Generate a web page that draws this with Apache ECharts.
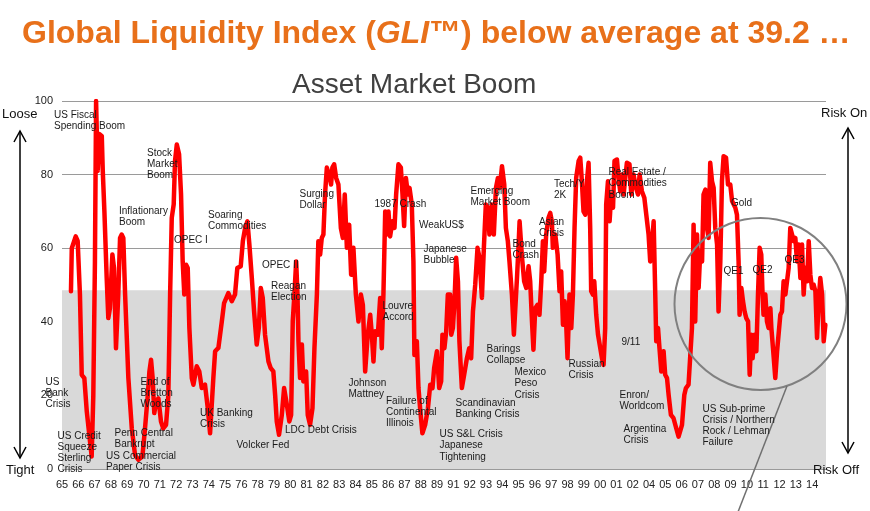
<!DOCTYPE html>
<html><head><meta charset="utf-8">
<script src="https://cdn.jsdelivr.net/npm/echarts@6/dist/echarts.min.js"></script>
<style>html,body{margin:0;padding:0;background:#fff}#c{width:870px;height:511px}</style>
</head><body><div id="c"></div>
<script>
// x-axis tick labels (one per unit on the x scale)
const xLabels = ['65','66','67','68','69','70','71','72','73','74','75','76','78','79','80','81','82','83','84','85','86','87','88','89','91','92','93','94','95','96','97','98','99','00','01','02','04','05','06','07','08','09','10','11','12','13','14'];
const yTicks = [0, 20, 40, 60, 80, 100];
// position along the x scale (label units) and GLI value
const t = [0.55,0.60,0.84,0.96,1.10,1.21,1.37,1.52,1.72,1.82,1.92,2.02,2.09,2.19,2.29,2.44,2.50,2.60,2.74,2.84,2.94,3.09,3.19,3.31,3.45,3.56,3.66,3.76,3.87,4.07,4.28,4.48,4.68,4.93,5.09,5.26,5.36,5.46,5.56,5.66,5.77,5.91,6.07,6.21,6.38,6.52,6.63,6.73,6.85,6.93,7.04,7.18,7.30,7.40,7.50,7.61,7.71,7.81,7.96,8.06,8.26,8.42,8.57,8.77,8.94,9.08,9.28,9.39,9.59,9.80,9.94,10.20,10.41,10.61,10.75,10.96,11.09,11.23,11.37,11.49,11.64,11.78,11.94,12.07,12.19,12.31,12.45,12.66,12.80,12.96,13.07,13.17,13.31,13.48,13.62,13.79,13.94,14.05,14.15,14.25,14.36,14.44,14.50,14.60,14.71,14.80,14.97,15.07,15.21,15.36,15.48,15.63,15.72,15.83,15.93,16.03,16.13,16.24,16.38,16.50,16.58,16.69,16.81,16.95,17.10,17.22,17.34,17.47,17.61,17.73,17.87,18.02,18.18,18.33,18.45,18.59,18.75,18.90,19.00,19.10,19.20,19.37,19.51,19.61,19.71,19.82,19.92,20.02,20.12,20.26,20.39,20.49,20.63,20.78,20.88,20.98,21.09,21.21,21.31,21.45,21.55,21.61,21.76,21.86,21.96,22.10,22.27,22.44,22.58,22.72,22.82,22.99,23.13,23.25,23.33,23.45,23.56,23.66,23.80,23.87,23.97,24.07,24.17,24.28,24.37,24.52,24.66,24.83,24.97,25.09,25.20,25.34,25.48,25.60,25.75,25.87,25.99,26.12,26.21,26.36,26.48,26.61,26.73,26.85,26.98,27.12,27.22,27.34,27.44,27.59,27.71,27.83,27.90,27.99,28.06,28.20,28.34,28.47,28.61,28.71,28.82,28.91,29.02,29.16,29.28,29.39,29.49,29.57,29.69,29.83,29.94,30.04,30.10,30.25,30.39,30.51,30.61,30.72,30.82,30.92,31.00,31.12,31.23,31.33,31.43,31.53,31.68,31.78,31.88,31.98,32.09,32.19,32.29,32.39,32.45,32.56,32.64,32.76,32.87,32.96,33.11,33.21,33.31,33.37,33.48,33.58,33.68,33.79,33.88,34.03,34.13,34.23,34.34,34.44,34.54,34.64,34.80,34.91,35.05,35.20,35.32,35.42,35.56,35.71,35.83,35.97,36.07,36.18,36.28,36.38,36.44,36.55,36.64,36.75,36.89,36.99,37.10,37.20,37.34,37.50,37.67,37.81,38.02,38.16,38.26,38.42,38.53,38.63,38.73,38.83,38.94,39.04,39.14,39.25,39.34,39.45,39.55,39.65,39.75,39.86,39.96,40.06,40.17,40.26,40.37,40.47,40.57,40.72,40.84,40.98,41.09,41.29,41.39,41.49,41.55,41.66,41.76,41.86,41.96,42.07,42.17,42.27,42.35,42.47,42.58,42.68,42.78,42.88,42.96,43.02,43.13,43.23,43.33,43.44,43.50,43.60,43.74,43.85,43.94,44.05,44.15,44.25,44.36,44.46,44.56,44.66,44.77,44.87,44.97,45.07,45.17,45.28,45.38,45.48,45.58,45.69,45.79,45.89,45.99,46.09,46.20,46.30,46.40,46.50,46.61,46.71,46.81];
const gli = [48.3,60,63.2,62,47.4,25.6,24.7,15.6,7.4,3.4,20,56.4,100,81,91,90.5,81,70,52,41,43.7,58.3,54.6,32.8,47.4,62.8,63.7,62.8,47.4,24.7,11,3.8,2.5,3.4,11,20,26.5,29.7,24.7,15.2,18.3,19.2,12.9,11,12,20,47.4,68.2,71.9,83.7,88.2,85.5,74.6,56.4,47.4,55.5,54.6,38.3,24.7,22.9,27.9,26.5,22,22.9,16.5,9.7,24.7,32,32.9,40.1,45.1,47.8,45.6,47.4,54.6,55.1,61.9,65.5,67.3,61,51.9,42.8,33.8,38.3,49.2,46.5,36.5,29.2,27.4,26.5,20.1,12.9,9.3,14.7,22,17.4,12.9,14.7,40.1,47.4,56.4,47.4,34.7,24.7,33.8,23.8,26.5,14.7,12,16.5,32.8,47.4,61.9,58.3,62.8,63.7,74.6,81.9,80,77.3,81.9,82.8,79.1,77.3,65.5,62.8,74.6,60.1,66.4,52.8,60.1,47.4,40.1,47.4,44.6,26.5,36.5,41.9,36.5,29.2,37.4,36.5,46.5,32.8,47.4,70,63.7,70,63.2,67.3,65.5,74.6,82.8,81.9,74.6,66,79.1,74.6,76.4,71.9,56.4,31,34.7,22,16.5,9.7,12,16.5,22.9,22,27.4,32,22,23.8,36.5,32.8,37.4,47.4,47.4,36.5,38.3,45.6,57.4,51,34.7,22,25.6,30.1,32.8,30.1,42.8,50.1,60.1,57.4,46.5,60.1,71.9,71,63.7,71.9,63.7,76.4,79.1,76.4,82.3,77.3,65.5,61.9,56.4,47.4,36.5,36.5,51.9,60.1,67.3,58,51,49.2,55.1,51,40.1,32.4,43.7,44.6,41.9,51,61.9,53.7,63.7,68.2,69.6,67.3,60.1,63.7,58.3,48.3,53.7,39.2,45.6,39.2,30.1,47.4,38.3,47.4,65.5,79.1,83.7,84.6,78.2,70,69.1,78.2,83.2,65.5,48.3,47.4,51,41.9,36.5,36.5,30.1,28.3,38.3,71.9,78.2,67.3,74.6,71,83.7,84.1,79.1,75.5,80,74.6,79.1,83.2,82.8,74.6,80,76.4,74.6,80,75.5,73.7,69.1,63.7,56.4,61,67.3,47.4,34.7,38.3,32.8,26.5,32,25.6,24.7,20.1,14.7,13.8,11,8.8,12,20.1,22,22.9,31,38.3,66.4,40.1,63.7,49.2,59.2,56.4,74.6,75.9,65.5,62.8,83.2,78.2,76.4,65.5,61,42.8,56.4,78.2,85,84.6,77.3,77.3,72.8,71,69.1,56.4,41.9,49.2,45.6,42.8,41,40.1,25.6,36.5,30.1,36.5,32,47.4,60.1,58.3,47.4,41.9,47.4,40.1,38.3,43.7,38.3,32.8,24.7,32,36.5,41.9,42.8,51,47.4,51,54.6,65.5,63.7,61.9,62.8,56.4,61,51.9,61,47.4,54.6,51,61.9,52.8,49.2,50.1,48.3,35.6,45.6,51.9,47.4,34.7,39.2];
const averageBandTop = 48.6;
const titleText = 'Global Liquidity Index (GLI™) below average at 39.2 …';
const subtitleText = 'Asset Market Boom';
const eventLabels = ['US Fiscal\nSpending Boom','Stock\nMarket\nBoom','Inflationary\nBoom','Soaring\nCommodities','OPEC I','OPEC II','Reagan\nElection','US\nBank\nCrisis','US Credit\nSqueeze\nSterling\nCrisis','Penn Central\nBankrupt','US Commercial\nPaper Crisis','End of\nBretton\nWoods','UK Banking\nCrisis','Volcker Fed','LDC Debt Crisis','Surging\nDollar','1987 Crash','WeakUS$','Japanese\nBubble','Emerging\nMarket Boom','Bond\nCrash','Asian\nCrisis','Louvre\nAccord','Johnson\nMattney','Failure of\nContinental\nIllinois','US S&L Crisis\nJapanese\nTightening','Scandinavian\nBanking Crisis','Barings\nCollapse','Mexico\nPeso\nCrisis','Tech/Y\n2K','Real Estate /\nCommodities\nBoom','Gold','QE1','QE2','QE3','9/11','Russian\nCrisis','Enron/\nWorldcom','Argentina\nCrisis','US Sub-prime\nCrisis / Northern\nRock / Lehman\nFailure'];

// layout (pixel positions of annotation text: left, centre of first line)
const eventPos = [[54,115],[147,153],[119,211.5],[208,215],[174,240],[262,265.5],[271,286],[45.5,382],[57.5,436],[114.5,433.5],[106,456.5],[140.5,382],[200,413],[236.5,445.5],[285,430.5],[299.5,194.5],[374.5,204.5],[419,225.5],[423.5,249],[470.5,191],[512.5,244.5],[539,222],[382.5,306.5],[348.5,383.5],[386,401],[439.5,434.5],[455.5,403],[486.5,349.5],[514.5,372.5],[554,184.5],[608.5,172.5],[731,203.5],[723.5,271],[752.5,270.5],[784.5,260.5],[621.5,342],[568.5,364.5],[619.5,395],[623.5,429],[702.5,409]];

const FONT = "'Liberation Sans', Arial, Helvetica, sans-serif";
const LH = 11.2;
const chart = echarts.init(document.getElementById('c'), null, {renderer: 'canvas'});

const graphics = [];
graphics.push({type:'text', x:22, y:34, z:30, style:{
  text:'{a|Global Liquidity Index (}{b|GLI}{a|™) below average at 39.2 …}',
  verticalAlign:'middle',
  rich:{a:{fontSize:32,fontWeight:'bold',fontFamily:FONT,fill:'#E8701A',color:'#E8701A'},
        b:{fontSize:32,fontWeight:'bold',fontStyle:'italic',fontFamily:FONT,fill:'#E8701A',color:'#E8701A'}}}});
graphics.push({type:'text', x:292, y:85, z:30, style:{text:subtitleText, fontSize:28, fontFamily:FONT, fill:'#404040', verticalAlign:'middle'}});
graphics.push({type:'text', x:2, y:114, z:30, style:{text:'Loose', fontSize:13, fontFamily:FONT, fill:'#111', verticalAlign:'middle'}});
graphics.push({type:'text', x:6, y:470, z:30, style:{text:'Tight', fontSize:13, fontFamily:FONT, fill:'#111', verticalAlign:'middle'}});
graphics.push({type:'text', x:821, y:113, z:30, style:{text:'Risk On', fontSize:13, fontFamily:FONT, fill:'#111', verticalAlign:'middle'}});
graphics.push({type:'text', x:813, y:470, z:30, style:{text:'Risk Off', fontSize:13, fontFamily:FONT, fill:'#111', verticalAlign:'middle'}});
// arrows
function arrow(x, y1, y2) {
  graphics.push({type:'line', z:30, shape:{x1:x,y1:y1,x2:x,y2:y2}, style:{stroke:'#000',lineWidth:1.5}});
  graphics.push({type:'polyline', z:30, shape:{points:[[x-6,y1+11],[x,y1],[x+6,y1+11]]}, style:{stroke:'#000',lineWidth:1.5,fill:null}});
  graphics.push({type:'polyline', z:30, shape:{points:[[x-6,y2-11],[x,y2],[x+6,y2-11]]}, style:{stroke:'#000',lineWidth:1.5,fill:null}});
}
arrow(20, 131, 458);
arrow(848, 128, 453);
// highlight circle and pointer
graphics.push({type:'circle', z:10, shape:{cx:760.5, cy:304, r:86}, style:{stroke:'#808080', lineWidth:2, fill:null}});
graphics.push({type:'line', z:10, shape:{x1:787, y1:386, x2:738, y2:512}, style:{stroke:'#707070', lineWidth:1.5}});
// event annotations
eventLabels.forEach((txt, i) => {
  graphics.push({type:'text', z:20, x:eventPos[i][0], y:eventPos[i][1] - LH/2,
    style:{text:txt, fontSize:10, fontFamily:FONT, fill:'#1a1a1a', lineHeight:LH, verticalAlign:'top'}});
});

chart.setOption({
  animation:false,
  backgroundColor:'#fff',
  grid:{left:62, right:44, top:101, bottom:42, containLabel:false},
  xAxis:{type:'value', min:0, max:46.85, interval:1,
    axisLine:{show:false}, axisTick:{show:false}, splitLine:{show:false},
    axisLabel:{color:'#222', fontSize:11, fontFamily:FONT, margin:10, showMaxLabel:false,
      formatter:(v)=>{ const k = Math.round(v); return Math.abs(v-k)<1e-6 && xLabels[k]!==undefined ? xLabels[k] : ''; }}},
  yAxis:{type:'value', min:yTicks[0], max:yTicks[yTicks.length-1], interval:20,
    axisLine:{show:false}, axisTick:{show:false},
    splitLine:{lineStyle:{color:'#9a9a9a', width:1}},
    axisLabel:{color:'#222', fontSize:11, fontFamily:FONT, margin:9}},
  series:[{
    type:'line', name:'GLI', data:t.map((x,i)=>[x, gli[i]]),
    showSymbol:false, symbol:'none',
    lineStyle:{color:'#ff0000', width:4.5, join:'round', cap:'round'},
    z:5,
    markArea:{silent:true, itemStyle:{color:'#d9d9d9'}, z:1,
      data:[[{yAxis:0},{yAxis:averageBandTop}]]}
  }],
  graphic:graphics
});
</script></body></html>
